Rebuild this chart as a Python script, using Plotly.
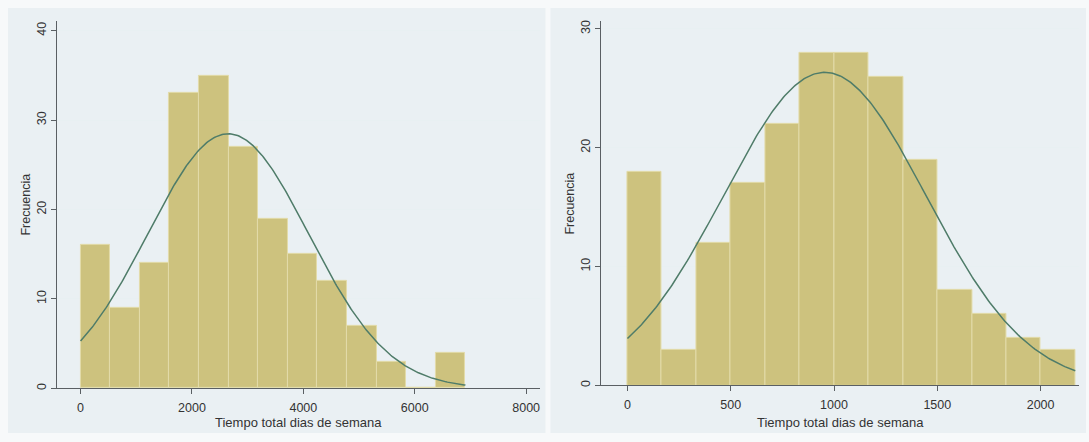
import numpy as np
import plotly.graph_objects as go

# Frequencies per bin (13 equal-width bins each)
left_counts = [16, 9, 14, 33, 35, 27, 19, 15, 12, 7, 3, 0, 4]
left_min, left_max = 0, 6910
left_mean, left_sd = 2650, 1445

right_counts = [18, 3, 12, 17, 22, 28, 28, 26, 19, 8, 6, 4, 3]
right_min, right_max = 0, 2168
right_mean, right_sd = 955, 490

left_xticks = [0, 2000, 4000, 6000, 8000]
left_yticks = [0, 10, 20, 30, 40]
right_xticks = [0, 500, 1000, 1500, 2000]
right_yticks = [0, 10, 20, 30]

x_title = "Tiempo total dias de semana"
y_title = "Frecuencia"

W, H = 1089, 442
BAR = "#cdc27e"
BAR_EDGE = "#e3dba9"
CURVE = "#4f7c69"
AXIS = "#5a5f63"
GRID = "#e8f0f2"
PANEL = "#eaf0f3"
FONT = "Liberation Sans, Arial, sans-serif"


def bins(counts, lo, hi):
    w = (hi - lo) / len(counts)
    centers = [lo + (i + 0.5) * w for i in range(len(counts))]
    return centers, w


def normal_curve(lo, hi, mean, sd, n, w):
    xs = np.linspace(lo, hi, 300)
    ys = n * w * np.exp(-0.5 * ((xs - mean) / sd) ** 2) / (sd * np.sqrt(2 * np.pi))
    return xs, ys


fig = go.Figure()

panels = [
    dict(counts=left_counts, lo=left_min, hi=left_max, mean=left_mean, sd=left_sd,
         xa="x", ya="y"),
    dict(counts=right_counts, lo=right_min, hi=right_max, mean=right_mean, sd=right_sd,
         xa="x2", ya="y2"),
]

for p in panels:
    c, w = bins(p["counts"], p["lo"], p["hi"])
    fig.add_trace(go.Bar(x=c, y=p["counts"], width=w, xaxis=p["xa"], yaxis=p["ya"],
                         marker=dict(color=BAR, line=dict(color=BAR_EDGE, width=1)),
                         showlegend=False))
    xs, ys = normal_curve(p["lo"], p["hi"], p["mean"], p["sd"], sum(p["counts"]), w)
    fig.add_trace(go.Scatter(x=xs, y=ys, mode="lines", xaxis=p["xa"], yaxis=p["ya"],
                             line=dict(color=CURVE, width=1.5), showlegend=False))


def px_x(v):
    return v / W


def px_y(v):
    return 1 - v / H


axis_common = dict(showline=True, linecolor=AXIS, linewidth=1, ticks="outside",
                   ticklen=5, tickcolor=AXIS, tickwidth=1, zeroline=False,
                   tickfont=dict(family=FONT, size=12.5, color="#333"))

# plot areas (pixel positions)
L = dict(x0=57, x1=540, y0=20, y1=390)
R = dict(x0=602, x1=1080, y0=20, y1=387)

fig.update_layout(
    width=W, height=H, margin=dict(l=0, r=0, t=0, b=0),
    paper_bgcolor="#f7f9fa", plot_bgcolor="white", bargap=0,
    xaxis=dict(domain=[px_x(L["x0"]), px_x(L["x1"])], range=[-424, 8240],
               tickvals=left_xticks, showgrid=False, anchor="y",
               ticklabelstandoff=3, **axis_common),
    yaxis=dict(domain=[px_y(L["y1"]), px_y(L["y0"])], range=[0, 41.1],
               tickvals=left_yticks, tickangle=-90, showgrid=True, gridcolor=GRID,
               anchor="x", **axis_common),
    xaxis2=dict(domain=[px_x(R["x0"]), px_x(R["x1"])], range=[-126, 2186],
                tickvals=right_xticks, showgrid=False, anchor="y2",
                ticklabelstandoff=3, **axis_common),
    yaxis2=dict(domain=[px_y(R["y1"]), px_y(R["y0"])], range=[0, 30.67],
                tickvals=right_yticks, tickangle=-90, showgrid=True, gridcolor=GRID,
                anchor="x2", **axis_common),
)

# graph-region backgrounds
for x0, x1 in [(8, 546), (551, 1087)]:
    fig.add_shape(type="rect", xref="paper", yref="paper", layer="below",
                  x0=px_x(x0), x1=px_x(x1), y0=px_y(435), y1=px_y(7),
                  fillcolor=PANEL, line=dict(width=0))

# axis titles
for box, ytx in [(L, 26), (R, 571)]:
    fig.add_annotation(text=x_title, xref="paper", yref="paper",
                       x=px_x((box["x0"] + box["x1"]) / 2), y=px_y(424),
                       showarrow=False, xanchor="center", yanchor="middle",
                       font=dict(family=FONT, size=13, color="#333"))
    fig.add_annotation(text=y_title, xref="paper", yref="paper",
                       x=px_x(ytx), y=px_y((box["y0"] + box["y1"]) / 2),
                       showarrow=False, textangle=-90, xanchor="center", yanchor="middle",
                       font=dict(family=FONT, size=12.5, color="#333"))

fig.write_html("out.html")
